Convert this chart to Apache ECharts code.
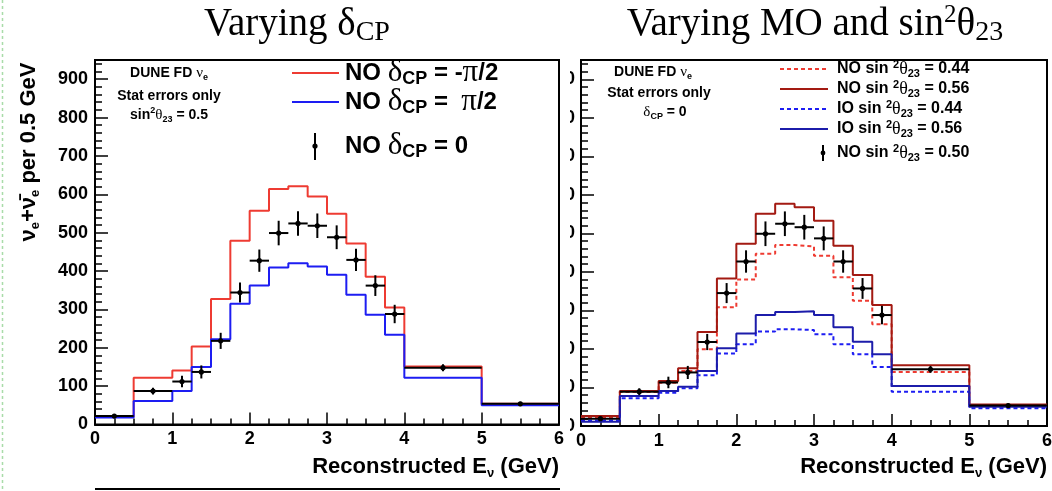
<!DOCTYPE html>
<html><head><meta charset="utf-8">
<script src="https://cdn.jsdelivr.net/npm/echarts@6/dist/echarts.min.js"></script>
<style>html,body{margin:0;padding:0;background:#fff;}#c{width:1052px;height:491px;}</style>
</head><body><div id="c"></div>
<script>
// ---- data ----
const binEdges = [0, 0.5, 1, 1.25, 1.5, 1.75, 2, 2.25, 2.5, 2.75, 3, 3.25, 3.5, 3.75, 4, 5, 6];
const binCenters = [0.25, 0.75, 1.125, 1.375, 1.625, 1.875, 2.125, 2.375, 2.625, 2.875, 3.125, 3.375, 3.625, 3.875, 4.5, 5.5];
const xTicks = [0, 1, 2, 3, 4, 5, 6];
const yTicks = [0, 100, 200, 300, 400, 500, 600, 700, 800, 900];
// left panel: varying delta_CP
const noDcpMinusHalfPi = [20, 122, 141, 203, 327, 479, 557, 614, 621, 594, 549, 472, 385, 305, 151, 54];
const noDcpPlusHalfPi  = [18, 61, 87, 150, 222, 315, 362, 409, 420, 412, 390, 338, 286, 234, 122, 50];
const noDcpZero        = [22, 87, 112, 137, 218, 344, 427, 499, 524, 518, 488, 429, 362, 288, 148, 54];
const noDcpZeroErr     = [5, 9, 15, 17, 21, 26, 29, 32, 32, 32, 31, 29, 27, 24, 9, 5];
// right panel: varying MO and sin^2 theta23
const noSin044 = [22, 88, 112, 143, 199, 308, 380, 447, 470, 466, 442, 386, 325, 264, 140, 52];
const noSin056 = [26, 91, 117, 150, 244, 383, 473, 551, 577, 568, 533, 468, 392, 314, 158, 56];
const ioSin044 = [14, 72, 86, 98, 132, 188, 212, 245, 251, 249, 238, 212, 186, 153, 89, 46];
const ioSin056 = [11, 78, 91, 102, 143, 202, 240, 288, 296, 298, 288, 256, 219, 186, 104, 50];
const noSin050    = [19, 89, 113, 139, 218, 345, 427, 499, 525, 516, 487, 427, 357, 288, 147, 53];
const noSin050Err = [5, 9, 15, 17, 21, 26, 29, 32, 32, 32, 31, 29, 27, 24, 9, 5];

// ---- helpers ----
const SANS = 'Liberation Sans', SERIF = 'Liberation Serif';
function stepData(vals){ return binEdges.map((e,i)=>[e, vals[Math.min(i, vals.length-1)]]); }
function histSeries(name, vals, gi, color, dashed, z){
  return {name, type:'line', xAxisIndex:gi, yAxisIndex:gi, step:'end', data:stepData(vals),
    showSymbol:false, symbol:'none', animation:false, z:z, silent:true,
    lineStyle:{color, width:2, type: dashed ? [4,3] : 'solid'}};
}
function pointSeries(name, vals, errs, gi){
  return {name, type:'custom', xAxisIndex:gi, yAxisIndex:gi, animation:false, z:10, silent:true,
    data: binCenters.map((c,i)=>[c, vals[i], errs[i], binEdges[i], binEdges[i+1]]),
    renderItem:function(params, api){
      const x=api.value(0), y=api.value(1), e=api.value(2), x0=api.value(3), x1=api.value(4);
      const c=api.coord([x,y]), l=api.coord([x0,y]), r=api.coord([x1,y]);
      const t=api.coord([x,y+e]), b=api.coord([x,y-e]);
      return {type:'group', children:[
        {type:'line', shape:{x1:l[0],y1:l[1],x2:r[0],y2:r[1]}, style:{stroke:'#000',lineWidth:2}},
        {type:'line', shape:{x1:t[0],y1:t[1],x2:b[0],y2:b[1]}, style:{stroke:'#000',lineWidth:2}},
        {type:'circle', shape:{cx:c[0],cy:c[1],r:2.6}, style:{fill:'#000'}}
      ]};
    }};
}
function xAx(gi){ return {type:'value', gridIndex:gi, min:xTicks[0], max:xTicks[xTicks.length-1], interval:1,
  axisLine:{show:true,onZero:false,lineStyle:{color:'#000',width:2}},
  axisTick:{show:true,inside:true,length:12,lineStyle:{color:'#000',width:1.5}},
  minorTick:{show:true,splitNumber:4,length:6,lineStyle:{color:'#000',width:1.5}},
  splitLine:{show:false}, minorSplitLine:{show:false},
  axisLabel:{color:'#000',fontFamily:SANS,fontWeight:'bold',fontSize:18,margin:6}}; }
function yAx(gi, margin, formatter){ return {type:'value', gridIndex:gi, min:yTicks[0], max:950, interval:100,
  axisLine:{show:true,onZero:false,lineStyle:{color:'#000',width:2}},
  axisTick:{show:true,inside:true,length:13,lineStyle:{color:'#000',width:1.5}},
  minorTick:{show:true,splitNumber:5,length:7,lineStyle:{color:'#000',width:1.5}},
  splitLine:{show:false}, minorSplitLine:{show:false},
  axisLabel:{color:'#000',fontFamily:SANS,fontWeight:'bold',fontSize:18,margin:margin,showMaxLabel:false,formatter:formatter}}; }
// the right panel's labels are cut off by the left pad in the original: only the last digit edge shows
const lastDigit = v => String(v).slice(-1);

const RED='#ee3b32', BLUE='#1d1df2', DRED='#a31a12', DBLUE='#1c1caa';

function txt(x,y,text,rich,opt){ opt=opt||{};
  return Object.assign({type:'text', x, y, z:100, silent:true,
    style:{text, rich, fill:'#000', align:opt.align||'left', verticalAlign:'middle',
      font:'bold 15px '+SANS}}, opt.extra||{});
}
const legRich = {
  b:{fontFamily:SANS,fontWeight:'bold',fontSize:24,lineHeight:30},
  g:{fontFamily:SERIF,fontSize:31,lineHeight:30},
  s:{fontFamily:SANS,fontWeight:'bold',fontSize:18,lineHeight:12,verticalAlign:'bottom'}
};
const rlegRich = {
  b:{fontFamily:SANS,fontWeight:'bold',fontSize:16,lineHeight:20},
  g:{fontFamily:SERIF,fontSize:18,lineHeight:20},
  p:{fontFamily:SANS,fontWeight:'bold',fontSize:11,lineHeight:6,verticalAlign:'top'},
  s:{fontFamily:SANS,fontWeight:'bold',fontSize:11,lineHeight:6,verticalAlign:'bottom'}
};
const infoRich = {
  b:{fontFamily:SANS,fontWeight:'bold',fontSize:14,lineHeight:18},
  n:{fontFamily:SERIF,fontSize:15,lineHeight:18},
  p:{fontFamily:SANS,fontWeight:'bold',fontSize:9,lineHeight:8,verticalAlign:'top'},
  s:{fontFamily:SANS,fontWeight:'bold',fontSize:9,lineHeight:6,verticalAlign:'bottom'}
};
const titleRich = {
  m:{fontFamily:SERIF,fontSize:39,lineHeight:44},
  p:{fontFamily:SERIF,fontSize:25,lineHeight:34,verticalAlign:'top'},
  s:{fontFamily:SERIF,fontSize:28,lineHeight:12,verticalAlign:'bottom'}
};
const axRich = {
  a:{fontFamily:SANS,fontWeight:'bold',fontSize:22,lineHeight:26},
  s:{fontFamily:SANS,fontWeight:'bold',fontSize:13,lineHeight:10,verticalAlign:'bottom'}
};

const graphics = [
  // slide decorations
  {type:'line', z:100, silent:true, shape:{x1:2.5,y1:0,x2:2.5,y2:491}, style:{stroke:'#a9dca9',lineWidth:1.5,lineDash:[3,3]}},
  {type:'line', z:100, silent:true, shape:{x1:95,y1:489,x2:560,y2:489}, style:{stroke:'#000',lineWidth:2}},
  // mask: the right panel's y labels are clipped in the original
  {type:'rect', z:90, silent:true, shape:{x:564,y:50,width:6,height:392}, style:{fill:'#fff'}},
  // titles
  txt(297,25,'{m|Varying δ}{s|CP}',titleRich,{align:'center'}),
  txt(815,25,'{m|Varying MO and sin}{p|2}{m|θ}{s|23}',titleRich,{align:'center'}),
  // axis titles
  txt(0,0,'{a|ν}{s|e}{a|+}{a|ν̄}{s|e}{a| per 0.5 GeV}',axRich,{align:'center',extra:{x:29,y:152,rotation:Math.PI/2}}),
  txt(559,467,'{a|Reconstructed E}{s|ν}{a| (GeV)}',axRich,{align:'right'}),
  txt(1047,467,'{a|Reconstructed E}{s|ν}{a| (GeV)}',axRich,{align:'right'}),
  // left info box
  txt(169,73,'{b|DUNE FD }{n|ν}{s|e}',infoRich,{align:'center'}),
  txt(169,96,'{b|Stat errors only}',infoRich,{align:'center'}),
  txt(169,115,'{b|sin}{p|2}{n|θ}{s|23}{b| = 0.5}',infoRich,{align:'center'}),
  // right info box
  txt(653,72,'{b|DUNE FD }{n|ν}{s|e}',infoRich,{align:'center'}),
  txt(659,93,'{b|Stat errors only}',infoRich,{align:'center'}),
  txt(665,112,'{n|δ}{s|CP}{b| = 0}',infoRich,{align:'center'}),
  // left legend
  {type:'line', z:100, silent:true, shape:{x1:292,y1:73,x2:339,y2:73}, style:{stroke:RED,lineWidth:2}},
  {type:'line', z:100, silent:true, shape:{x1:292,y1:102,x2:339,y2:102}, style:{stroke:BLUE,lineWidth:2}},
  {type:'line', z:100, silent:true, shape:{x1:315,y1:133,x2:315,y2:160}, style:{stroke:'#000',lineWidth:2}},
  {type:'circle', z:100, silent:true, shape:{cx:315,cy:146,r:2.6}, style:{fill:'#000'}},
  txt(345,73,'{b|NO }{g|δ}{s|CP}{b| = -}{g|π}{b|/2}',legRich),
  txt(345,102,'{b|NO }{g|δ}{s|CP}{b| =  }{g|π}{b|/2}',legRich),
  txt(345,146,'{b|NO }{g|δ}{s|CP}{b| = 0}',legRich),
  // right legend
  {type:'line', z:100, silent:true, shape:{x1:780,y1:69,x2:828,y2:69}, style:{stroke:RED,lineWidth:2,lineDash:[4,3]}},
  {type:'line', z:100, silent:true, shape:{x1:780,y1:89,x2:828,y2:89}, style:{stroke:DRED,lineWidth:2}},
  {type:'line', z:100, silent:true, shape:{x1:780,y1:109,x2:828,y2:109}, style:{stroke:BLUE,lineWidth:2,lineDash:[4,3]}},
  {type:'line', z:100, silent:true, shape:{x1:780,y1:129,x2:828,y2:129}, style:{stroke:DBLUE,lineWidth:2}},
  {type:'line', z:100, silent:true, shape:{x1:823,y1:145,x2:823,y2:161}, style:{stroke:'#000',lineWidth:2}},
  {type:'circle', z:100, silent:true, shape:{cx:823,cy:153,r:2.4}, style:{fill:'#000'}},
  txt(837,69,'{b|NO sin }{p|2}{g|θ}{s|23}{b| = 0.44}',rlegRich),
  txt(837,89,'{b|NO sin }{p|2}{g|θ}{s|23}{b| = 0.56}',rlegRich),
  txt(837,109,'{b|IO sin }{p|2}{g|θ}{s|23}{b| = 0.44}',rlegRich),
  txt(837,129,'{b|IO sin }{p|2}{g|θ}{s|23}{b| = 0.56}',rlegRich),
  txt(837,153,'{b|NO sin }{p|2}{g|θ}{s|23}{b| = 0.50}',rlegRich)
];

const option = {
  backgroundColor:'#fff', animation:false,
  grid:[
    {left:95, top:60, width:464, height:364.5, show:true, borderColor:'#000', borderWidth:2, backgroundColor:'rgba(0,0,0,0)', outerBoundsMode:'none', containLabel:false},
    {left:581, top:60, width:466, height:366, show:true, borderColor:'#000', borderWidth:2, backgroundColor:'rgba(0,0,0,0)', outerBoundsMode:'none', containLabel:false}
  ],
  xAxis:[xAx(0), xAx(1)],
  yAxis:[yAx(0,7), yAx(1,6,lastDigit)],
  series:[
    histSeries('NO δCP = -π/2', noDcpMinusHalfPi, 0, RED, false, 2),
    histSeries('NO δCP = π/2', noDcpPlusHalfPi, 0, BLUE, false, 3),
    pointSeries('NO δCP = 0', noDcpZero, noDcpZeroErr, 0),
    histSeries('NO sin²θ23 = 0.44', noSin044, 1, RED, true, 2),
    histSeries('NO sin²θ23 = 0.56', noSin056, 1, DRED, false, 3),
    histSeries('IO sin²θ23 = 0.44', ioSin044, 1, BLUE, true, 4),
    histSeries('IO sin²θ23 = 0.56', ioSin056, 1, DBLUE, false, 5),
    pointSeries('NO sin²θ23 = 0.50', noSin050, noSin050Err, 1)
  ],
  graphic: graphics
};
const chart = echarts.init(document.getElementById('c'));
chart.setOption(option);
</script></body></html>
